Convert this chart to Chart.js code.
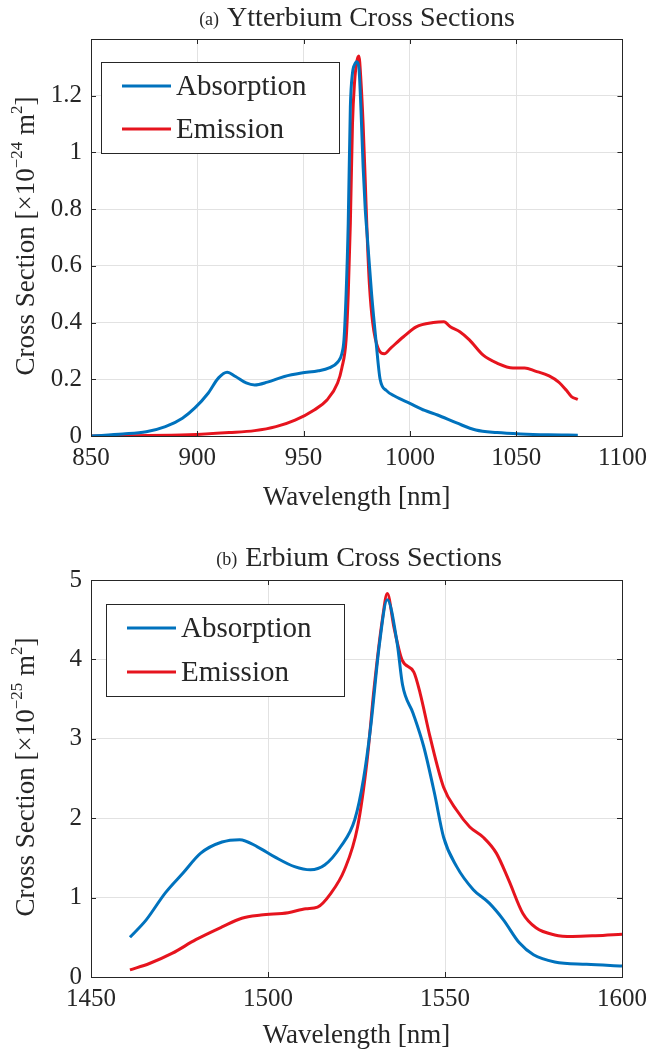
<!DOCTYPE html>
<html>
<head>
<meta charset="utf-8">
<title>Cross Sections</title>
<script src="https://cdn.jsdelivr.net/npm/chart.js@4/dist/chart.umd.min.js"></script>
<style>
  body { margin: 0; background: #fff; }
  canvas { position: absolute; left: 0; }
</style>
</head>
<body>
<canvas id="ybChart" width="654" height="525" style="top:0"></canvas>
<canvas id="erChart" width="654" height="528" style="top:525px"></canvas>
<script>
// ---- data ----
// (a) ytterbium, wavelength in nm, cross section in 1e-24 m^2
var ybAbsNm = [850, 865, 876, 885, 893, 899, 905, 910, 914, 918, 923, 927, 933, 941, 949, 957, 962, 966, 968, 969, 970, 971, 972, 973, 974, 975, 976, 977, 978, 979, 980, 982, 984, 986, 989, 993, 1000, 1007, 1013, 1022, 1031, 1041, 1052, 1065, 1079];
var ybAbsVal = [0, 0.007, 0.015, 0.033, 0.063, 0.1, 0.15, 0.205, 0.225, 0.21, 0.187, 0.18, 0.19, 0.21, 0.222, 0.23, 0.24, 0.26, 0.29, 0.34, 0.5, 0.75, 1.16, 1.28, 1.31, 1.32, 1.3, 1.15, 0.95, 0.8, 0.7, 0.5, 0.34, 0.2, 0.16, 0.14, 0.115, 0.09, 0.074, 0.046, 0.021, 0.012, 0.007, 0.004, 0.003];
var ybEmNm = [850, 870, 896, 915, 927, 937, 946, 955, 961, 966, 968, 970, 971, 972, 973, 974, 975, 976, 977, 978, 979, 980, 981, 982.5, 985, 988, 991, 997, 1003, 1011, 1016, 1019, 1023.5, 1028, 1034.5, 1041, 1048.5, 1054, 1059, 1065.5, 1070, 1073.5, 1076, 1079];
var ybEmVal = [0, 0.001, 0.004, 0.012, 0.019, 0.033, 0.056, 0.092, 0.127, 0.187, 0.24, 0.34, 0.5, 0.75, 1.1, 1.25, 1.32, 1.34, 1.25, 1.1, 0.9, 0.69, 0.53, 0.4, 0.31, 0.29, 0.31, 0.35, 0.385, 0.4, 0.403, 0.385, 0.368, 0.339, 0.285, 0.257, 0.24, 0.24, 0.229, 0.212, 0.19, 0.162, 0.139, 0.129];

// (b) erbium, wavelength in nm, cross section in 1e-25 m^2
var erAbsNm = [1461, 1465.6, 1471, 1476, 1481, 1487, 1492, 1497, 1502, 1507.5, 1512, 1516, 1520.5, 1524.5, 1527, 1529, 1531.5, 1533.7, 1536.5, 1538, 1541, 1544, 1547, 1549.6, 1553.3, 1558, 1562.5, 1566.5, 1571, 1575, 1581, 1590, 1600];
var erAbsVal = [0.5, 0.72, 1.06, 1.31, 1.56, 1.7, 1.73, 1.64, 1.51, 1.39, 1.35, 1.41, 1.64, 1.98, 2.5, 3.15, 4.2, 4.75, 4.2, 3.68, 3.32, 2.9, 2.32, 1.76, 1.39, 1.1, 0.93, 0.72, 0.43, 0.28, 0.19, 0.16, 0.14];
var erEmNm = [1461, 1466.5, 1473, 1479.6, 1487, 1492.6, 1498, 1505.7, 1510.7, 1514, 1517.7, 1521.6, 1525.3, 1528, 1530, 1532.3, 1533.7, 1535.6, 1537.9, 1541.2, 1543, 1545.8, 1549.6, 1553.3, 1557, 1560.8, 1564.5, 1568, 1572, 1575.7, 1581, 1586, 1592.5, 1600];
var erEmVal = [0.09, 0.17, 0.3, 0.47, 0.63, 0.74, 0.78, 0.81, 0.86, 0.88, 1.05, 1.35, 1.89, 2.73, 3.65, 4.5, 4.83, 4.4, 3.99, 3.84, 3.57, 3.02, 2.39, 2.1, 1.89, 1.76, 1.56, 1.22, 0.8, 0.62, 0.53, 0.51, 0.52, 0.54];

var seriesNames = ["Absorption", "Emission"];
var seriesColors = ["#0072BD", "#E6141E"];

var SERIF = "'Liberation Serif', 'DejaVu Serif', serif";
var INK = "#262626";

function pts(xs, ys) {
  return xs.map(function (x, i) { return { x: x, y: ys[i] }; });
}

// MATLAB-ish box, inward ticks, titles and legend
var decorPlugin = {
  id: "decor",
  afterDraw: function (chart, args, o) {
    var ctx = chart.ctx, a = chart.chartArea;
    var xs = chart.scales.x, ys = chart.scales.y;
    ctx.save();
    ctx.strokeStyle = INK;
    ctx.lineWidth = 1;
    ctx.strokeRect(Math.round(a.left) + 0.5, Math.round(a.top) + 0.5, Math.round(a.right - a.left), Math.round(a.bottom - a.top));
    ctx.beginPath();
    xs.ticks.forEach(function (t) {
      var px = Math.round(xs.getPixelForValue(t.value)) + 0.5;
      ctx.moveTo(px, a.bottom); ctx.lineTo(px, a.bottom - 5);
      ctx.moveTo(px, a.top); ctx.lineTo(px, a.top + 5);
    });
    ys.ticks.forEach(function (t) {
      var py = Math.round(ys.getPixelForValue(t.value)) + 0.5;
      ctx.moveTo(a.left, py); ctx.lineTo(a.left + 5, py);
      ctx.moveTo(a.right, py); ctx.lineTo(a.right - 5, py);
    });
    ctx.stroke();

    ctx.fillStyle = INK;
    ctx.textBaseline = "alphabetic";

    // title with small "(a)" prefix
    ctx.font = "18px " + SERIF;
    var wTag = ctx.measureText(o.tag).width;
    ctx.font = "28px " + SERIF;
    var wMain = ctx.measureText(o.title).width;
    var x0 = o.titleX - (wTag + 8 + wMain) / 2;
    ctx.font = "18px " + SERIF;
    ctx.textAlign = "left";
    ctx.fillText(o.tag, x0, o.titleY - 1);
    ctx.font = "28px " + SERIF;
    ctx.fillText(o.title, x0 + wTag + 8, o.titleY);

    // x axis title
    ctx.textAlign = "center";
    ctx.font = "27px " + SERIF;
    ctx.fillText("Wavelength [nm]", (a.left + a.right) / 2, o.xTitleY);

    // y axis title with superscripts
    var parts = [
      ["Cross Section [\u00d710", 27, 0],
      ["\u2212" + o.exp, 17, -12],
      [" m", 27, 0],
      ["2", 17, -12],
      ["]", 27, 0]
    ];
    var total = 0;
    parts.forEach(function (p) { ctx.font = p[1] + "px " + SERIF; p.push(ctx.measureText(p[0]).width); total += p[3]; });
    ctx.translate(34, o.yTitleY);
    ctx.rotate(-Math.PI / 2);
    ctx.textAlign = "left";
    var cx = -total / 2;
    parts.forEach(function (p) {
      ctx.font = p[1] + "px " + SERIF;
      ctx.fillText(p[0], cx, p[2]);
      cx += p[3];
    });
    ctx.setTransform(1, 0, 0, 1, 0, 0);

    // legend box inside the axes
    var L = o.legend;
    ctx.fillStyle = "#fff";
    ctx.fillRect(L.x, L.y, L.w, L.h);
    ctx.strokeStyle = INK;
    ctx.strokeRect(L.x + 0.5, L.y + 0.5, L.w, L.h);
    chart.data.datasets.forEach(function (ds, i) {
      var ly = L.y + L.first + i * L.gap;
      ctx.strokeStyle = ds.borderColor;
      ctx.lineWidth = 3;
      ctx.beginPath();
      ctx.moveTo(L.x + 21, ly); ctx.lineTo(L.x + 70, ly);
      ctx.stroke();
      ctx.fillStyle = INK;
      ctx.font = "29px " + SERIF;
      ctx.textAlign = "left";
      ctx.fillText(ds.label, L.x + 75, ly + 9);
    });
    ctx.restore();
  }
};

function makeChart(id, cfg) {
  var canvas = document.getElementById(id);
  return new Chart(canvas.getContext("2d"), {
    type: "line",
    data: {
      datasets: [
        { label: seriesNames[0], data: pts(cfg.absNm, cfg.absVal), borderColor: seriesColors[0] },
        { label: seriesNames[1], data: pts(cfg.emNm, cfg.emVal), borderColor: seriesColors[1] }
      ]
    },
    options: {
      responsive: false,
      animation: false,
      layout: { padding: { top: cfg.top, right: 27, left: 0, bottom: 0 } },
      elements: {
        point: { radius: 0 },
        line: { borderWidth: 3, cubicInterpolationMode: "monotone", fill: false }
      },
      plugins: {
        legend: { display: false },
        tooltip: { enabled: false },
        decor: cfg.decor
      },
      scales: {
        x: {
          type: "linear",
          min: cfg.xMin, max: cfg.xMax,
          afterFit: function (s) { s.height = cfg.xH; },
          grid: { color: "#e2e2e2", drawTicks: false },
          border: { color: INK },
          ticks: {
            stepSize: 50, padding: 7, color: INK, font: { family: SERIF, size: 25 }, maxRotation: 0,
            callback: function (v) { return String(v); }
          }
        },
        y: {
          min: 0, max: cfg.yMax,
          afterFit: function (s) { s.width = 91; },
          grid: { color: "#e2e2e2", drawTicks: false },
          border: { color: INK },
          ticks: {
            stepSize: cfg.yStep, padding: 9, color: INK, font: { family: SERIF, size: 25 },
            callback: function (v) { return v >= cfg.yMax - 1e-9 && cfg.hideTop ? "" : String(+v.toFixed(1)); }
          }
        }
      }
    },
    plugins: [decorPlugin]
  });
}

makeChart("ybChart", {
  absNm: ybAbsNm, absVal: ybAbsVal, emNm: ybEmNm, emVal: ybEmVal,
  xMin: 850, xMax: 1100, yMax: 1.4, yStep: 0.2, hideTop: true,
  top: 39, xH: 89,
  decor: {
    tag: "(a)", title: "Ytterbium Cross Sections", titleX: 357, titleY: 26,
    xTitleY: 505, yTitleY: 236, exp: "24",
    legend: { x: 101, y: 62, w: 238, h: 91, first: 24, gap: 43 }
  }
});

makeChart("erChart", {
  absNm: erAbsNm, absVal: erAbsVal, emNm: erEmNm, emVal: erEmVal,
  xMin: 1450, xMax: 1600, yMax: 5, yStep: 1, hideTop: false,
  top: 55, xH: 76,
  decor: {
    tag: "(b)", title: "Erbium Cross Sections", titleX: 359, titleY: 41,
    xTitleY: 518, yTitleY: 252, exp: "25",
    legend: { x: 106, y: 79, w: 238, h: 92, first: 24, gap: 44 }
  }
});
</script>
</body>
</html>
